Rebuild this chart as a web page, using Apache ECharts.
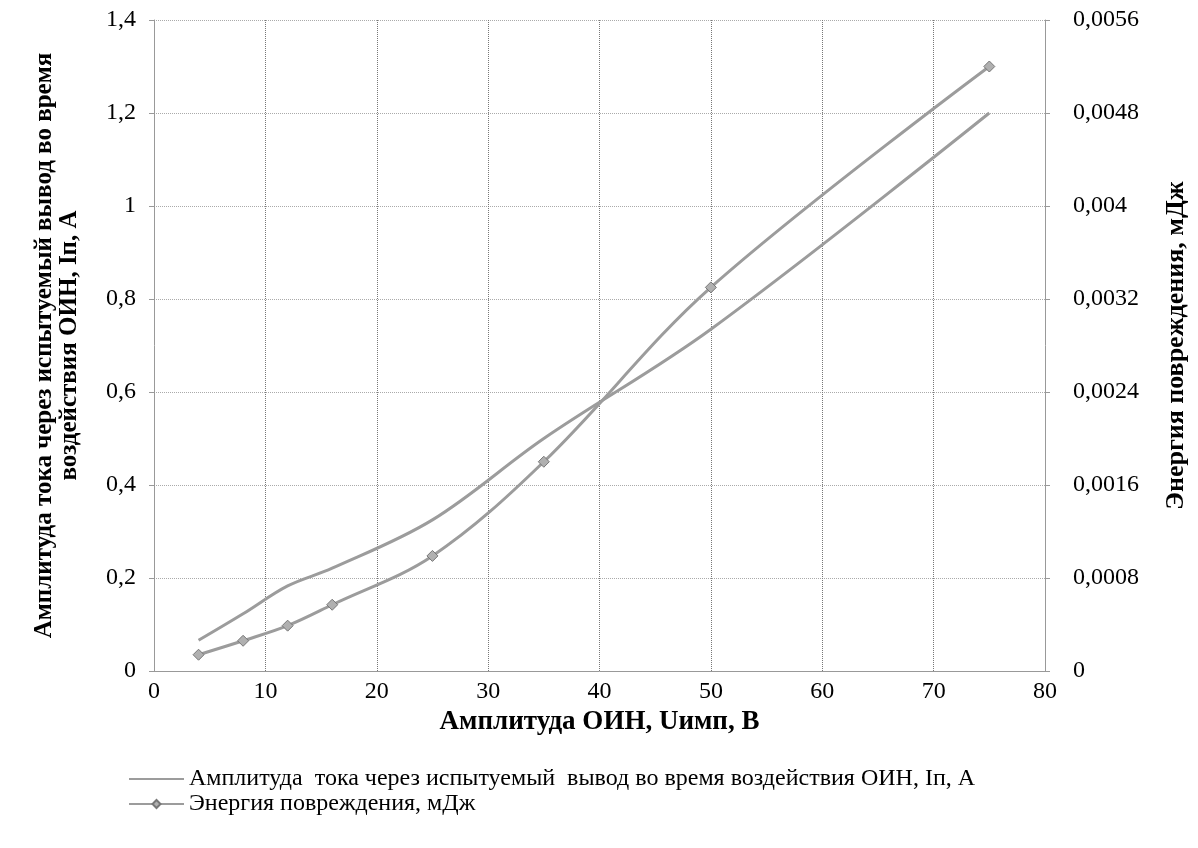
<!DOCTYPE html>
<html>
<head>
<meta charset="utf-8">
<script src="https://cdn.jsdelivr.net/npm/echarts@6/dist/echarts.min.js"></script>
<style>
  html, body { margin: 0; padding: 0; background: #fff; }
  #chart { width: 1198px; height: 848px; }
</style>
</head>
<body>
<div id="chart"></div>
<script>
// amplitude of the pulse, V
const xValues = [4, 8, 12, 16, 25, 35, 50, 75]
// current through the tested lead, A (left axis)
const currentValues = [0.066, 0.123, 0.183, 0.221, 0.325, 0.5, 0.735, 1.2]
// damage energy, mJ (right axis)
const energyValues = [0.00014, 0.00026, 0.00039, 0.00057, 0.00099, 0.0018, 0.0033, 0.0052]

const currentName = 'Амплитуда  тока через испытуемый  вывод во время воздействия ОИН, Iп, А'
const energyName = 'Энергия повреждения, мДж'

const font = '"Liberation Serif", "DejaVu Serif", serif'
const comma = v => String(parseFloat(v.toFixed(4))).replace('.', ',')

const pairs = (ys) => xValues.map((x, i) => [x, ys[i]])

const chart = echarts.init(document.getElementById('chart'), null, { renderer: 'canvas' })

const option = {
    backgroundColor: '#fff',
    animation: false,
    textStyle: { fontFamily: font, color: '#000' },
    grid: { left: 154, right: 153, top: 20, bottom: 177 },
    legend: {
        orient: 'vertical',
        left: 123,
        top: 762,
        itemWidth: 55,
        itemHeight: 10,
        itemGap: 1,
        textStyle: { fontFamily: font, fontSize: 24, color: '#000' },
        data: [
            { name: currentName, itemStyle: { opacity: 0 } },
            energyName
        ]
    },
    xAxis: {
        type: 'value',
        min: 0,
        max: 80,
        interval: 10,
        name: 'Амплитуда ОИН, Uимп, В',
        nameLocation: 'middle',
        nameGap: 35,
        nameTextStyle: { fontFamily: font, fontSize: 27, fontWeight: 'bold', color: '#000' },
        axisLine: { show: true, lineStyle: { color: '#999', width: 1 } },
        axisTick: { show: false },
        axisLabel: { fontFamily: font, fontSize: 24, color: '#000', margin: 9, formatter: comma },
        splitLine: { show: true, lineStyle: { color: '#777', type: 'dotted', width: 1 } }
    },
    yAxis: [
        {
            type: 'value',
            min: 0,
            max: 1.4,
            interval: 0.2,
            name: 'Амплитуда тока через испытуемый вывод во время\nвоздействия ОИН, Iп, А',
            nameLocation: 'middle',
            nameGap: 72,
            nameTextStyle: { fontFamily: font, fontSize: 25, fontWeight: 'bold', color: '#000', lineHeight: 25 },
            axisLine: { show: true, lineStyle: { color: '#999', width: 1 } },
            axisTick: { show: true, length: 5, lineStyle: { color: '#999' } },
            axisLabel: { fontFamily: font, fontSize: 24, color: '#000', margin: 18, formatter: comma },
            splitLine: { show: true, lineStyle: { color: '#aaa', type: 'dotted', width: 1 } }
        },
        {
            type: 'value',
            min: 0,
            max: 0.0056,
            interval: 0.0008,
            name: energyName,
            nameLocation: 'middle',
            nameGap: 118,
            nameTextStyle: { fontFamily: font, fontSize: 26, fontWeight: 'bold', color: '#000' },
            axisLine: { show: true, lineStyle: { color: '#999', width: 1 } },
            axisTick: { show: true, length: 5, lineStyle: { color: '#999' } },
            axisLabel: { fontFamily: font, fontSize: 24, color: '#000', margin: 28, formatter: comma },
            splitLine: { show: false }
        }
    ],
    series: [
        {
            name: currentName,
            type: 'line',
            yAxisIndex: 0,
            smooth: 0.35,
            symbol: 'none',
            data: pairs(currentValues),
            lineStyle: { color: '#9c9c9c', width: 3 },
            itemStyle: { color: '#9c9c9c' }
        },
        {
            name: energyName,
            type: 'line',
            yAxisIndex: 1,
            smooth: 0.35,
            symbol: 'diamond',
            symbolSize: 11,
            data: pairs(energyValues),
            lineStyle: { color: '#9c9c9c', width: 3 },
            itemStyle: { color: '#b0b0b0', borderColor: '#777', borderWidth: 1 }
        }
    ]
}

chart.setOption(option)
</script>
</body>
</html>
